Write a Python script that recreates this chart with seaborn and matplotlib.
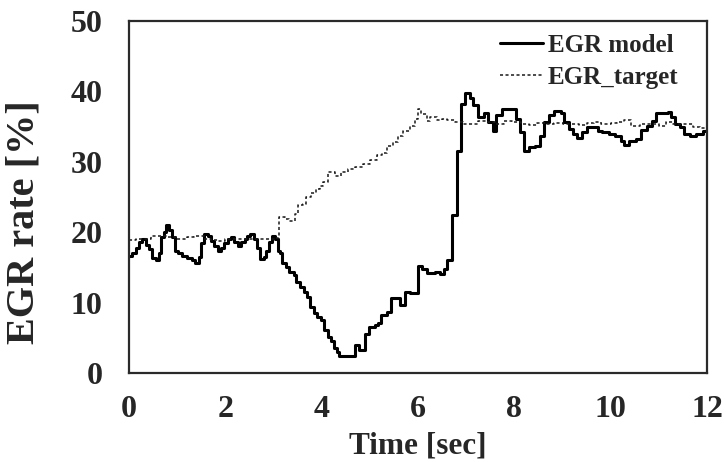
import matplotlib
matplotlib.use("Agg")
import matplotlib.pyplot as plt
import seaborn as sns
import pandas as pd

# EGR model response (time [s], rate [%]) – step-held samples
model_t = [0.00, 0.07, 0.14, 0.21, 0.28, 0.36, 0.42, 0.48, 0.56, 0.62,
           0.67, 0.72, 0.76, 0.83, 0.90, 0.95, 1.02, 1.10, 1.20, 1.30,
           1.37, 1.45, 1.49, 1.55, 1.63, 1.70, 1.77, 1.84, 1.91, 1.98,
           2.05, 2.12, 2.19, 2.26, 2.33, 2.40, 2.46, 2.52, 2.60, 2.66,
           2.71, 2.81, 2.85, 2.90, 2.97, 3.04, 3.09, 3.13, 3.18, 3.26,
           3.33, 3.42, 3.47, 3.55, 3.64, 3.70, 3.76, 3.84, 3.90, 3.99,
           4.05, 4.13, 4.20, 4.25, 4.31, 4.37, 4.69, 4.78, 4.90, 4.98,
           5.10, 5.17, 5.24, 5.35, 5.44, 5.63, 5.72, 5.84, 6.01, 6.09,
           6.18, 6.35, 6.46, 6.53, 6.61, 6.70, 6.80, 6.89, 6.97, 7.08,
           7.15, 7.25, 7.36, 7.46, 7.56, 7.62, 7.74, 7.88, 8.03, 8.11,
           8.20, 8.30, 8.43, 8.53, 8.62, 8.72, 8.82, 8.96, 9.04, 9.13,
           9.21, 9.31, 9.41, 9.51, 9.62, 9.73, 9.83, 9.96, 10.10, 10.21,
           10.28, 10.39, 10.53, 10.63, 10.76, 10.86, 10.94, 11.20, 11.26,
           11.33, 11.43, 11.53, 11.64, 11.78, 11.91, 12.00]
model_v = [16.6, 17.1, 17.8, 18.6, 19.1, 18.2, 17.6, 16.3, 16.1, 17.0,
           19.3, 20.0, 21.0, 20.3, 19.3, 17.4, 17.0, 16.6, 16.4, 16.1,
           15.6, 16.5, 18.4, 19.8, 19.5, 18.8, 18.1, 17.4, 17.7, 18.4,
           19.1, 19.3, 18.6, 18.1, 18.6, 19.1, 19.5, 19.8, 19.1, 17.7,
           16.2, 16.5, 17.4, 18.6, 19.5, 19.1, 17.4, 17.0, 15.6, 15.1,
           14.4, 13.9, 12.9, 12.2, 11.5, 10.8, 9.4, 8.5, 8.0, 7.5,
           6.1, 5.1, 4.5, 3.5, 3.0, 2.4, 4.0, 3.3, 5.6, 6.6,
           6.8, 7.1, 8.2, 8.7, 10.6, 9.6, 11.5, 11.4, 15.2, 14.8,
           14.2, 14.3, 14.1, 14.8, 16.1, 22.4, 31.6, 38.2, 39.8, 39.1,
           38.0, 36.3, 36.9, 35.6, 34.4, 36.6, 37.5, 37.5, 36.1, 34.2,
           31.5, 32.1, 32.3, 33.7, 35.6, 36.6, 37.2, 37.0, 35.6, 34.6,
           33.9, 33.4, 34.2, 34.9, 35.0, 34.4, 34.2, 33.9, 33.6, 33.0,
           32.4, 32.9, 33.2, 34.5, 35.1, 35.8, 36.9, 37.1, 36.3,
           35.3, 34.9, 33.9, 33.7, 34.0, 34.4, 34.7]

# EGR target (time [s], rate [%])
target_t = [0.00, 0.15, 0.30, 0.45, 0.60, 0.80, 1.00, 1.20, 1.35, 1.55,
            1.70, 1.85, 2.00, 2.15, 2.30, 2.45, 2.60, 2.75, 2.90, 3.06,
            3.12, 3.23, 3.33, 3.44, 3.51, 3.61, 3.68, 3.78, 3.89, 3.96,
            4.03, 4.13, 4.27, 4.41, 4.55, 4.69, 4.86, 5.00, 5.14, 5.25,
            5.35, 5.49, 5.59, 5.69, 5.83, 5.94, 6.00, 6.07, 6.18, 6.25,
            6.39, 6.49, 6.60, 6.77, 6.94, 7.15, 7.25, 7.43, 7.60, 7.78,
            7.95, 8.13, 8.30, 8.47, 8.65, 8.82, 9.00, 9.17, 9.35, 9.50,
            9.65, 9.80, 10.00, 10.14, 10.28, 10.42, 10.60, 10.83, 11.00, 11.15,
            11.30, 11.53, 11.70, 11.85, 12.00]
target_v = [18.9, 19.1, 19.1, 19.4, 19.5, 19.3, 19.1, 19.3, 19.4, 19.1,
            18.9, 18.8, 19.0, 19.1, 19.0, 19.1, 19.0, 19.1, 19.0, 19.2,
            22.1, 21.9, 21.6, 22.6, 23.8, 24.0, 25.0, 25.6, 26.1, 26.6,
            27.1, 28.5, 28.0, 28.5, 29.0, 29.2, 29.7, 30.2, 30.9, 31.3,
            32.3, 32.8, 33.7, 34.4, 35.1, 36.1, 37.5, 36.8, 35.8, 36.3,
            36.0, 36.1, 36.0, 35.7, 35.4, 35.4, 35.8, 35.7, 35.4, 35.8,
            35.6, 35.4, 35.2, 35.5, 35.3, 35.5, 35.3, 35.4, 35.2, 35.5,
            35.6, 35.4, 35.5, 35.6, 35.9, 35.1, 35.3, 35.3, 35.1, 35.7,
            35.3, 35.3, 35.0, 34.8, 34.9]

x_ticks = [0, 2, 4, 6, 8, 10, 12]
y_ticks = [0, 10, 20, 30, 40, 50]

sns.set_theme(style="white")
plt.rcParams["font.family"] = ["Liberation Serif", "DejaVu Serif"]
plt.rcParams["font.weight"] = "bold"

model_df = pd.DataFrame({"t": model_t, "v": model_v})
target_df = pd.DataFrame({"t": target_t, "v": target_v})

fig = plt.figure(figsize=(7.26, 4.62), dpi=100)
ax = fig.add_axes([129 / 726, 89 / 462, 578 / 726, 352 / 462])

sns.lineplot(data=model_df, x="t", y="v", ax=ax, color="black", linewidth=2.2,
             drawstyle="steps-post", estimator=None, sort=False, label="EGR model")
sns.lineplot(data=target_df, x="t", y="v", ax=ax, color="#1a1a1a", linewidth=1.1,
             drawstyle="steps-post", estimator=None, sort=False, label="EGR_target",
             linestyle=(0, (2.0, 1.6)))

ax.set_xlim(0, 12)
ax.set_ylim(0, 50)
ax.set_xticks(x_ticks)
ax.set_yticks(y_ticks)
ax.set_xticklabels([str(v) for v in x_ticks])
ax.set_yticklabels([str(v) for v in y_ticks])

for side in ["left", "right", "top", "bottom"]:
    ax.spines[side].set_visible(True)
    ax.spines[side].set_color("#2a2a2a")
    ax.spines[side].set_linewidth(1.6)

ax.tick_params(axis="both", direction="in", length=7, width=1, color="#9a9a9a",
               labelsize=23)
ax.tick_params(axis="x", pad=16)
ax.tick_params(axis="y", pad=19)
for lab in ax.get_xticklabels() + ax.get_yticklabels():
    lab.set_fontweight("bold")

ax.set_xlabel("Time [sec]", fontsize=22.5, fontweight="bold", labelpad=5)
ax.set_ylabel("EGR rate [%]", fontsize=29, fontweight="bold")
ax.yaxis.set_label_coords(-0.150, 0.43)

leg = ax.legend(loc="upper left", bbox_to_anchor=(0.642, 0.963), frameon=False,
                fontsize=18, handlelength=1.7, handletextpad=0.22,
                borderpad=0, borderaxespad=0, labelspacing=0.35)
for txt in leg.get_texts():
    txt.set_fontweight("bold")

fig.savefig("out.png", dpi=100)
